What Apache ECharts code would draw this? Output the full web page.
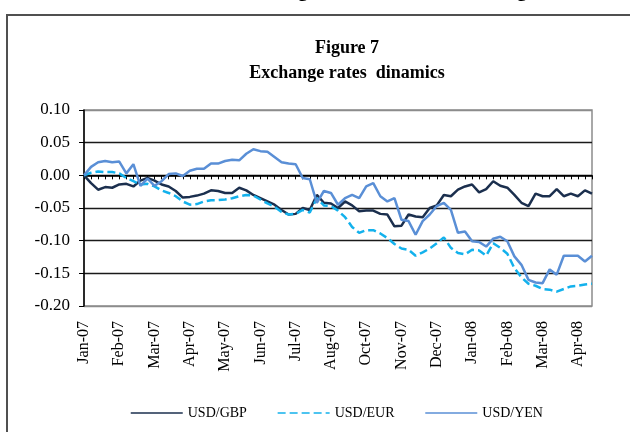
<!DOCTYPE html>
<html lang="en">
<head>
    <meta charset="UTF-8">
    <title>Figure 7</title>
    <script src="https://cdn.jsdelivr.net/npm/echarts@6/dist/echarts.min.js"></script>
    <style>
        body { margin: 0; background: #fff; }
        #main { width: 630px; height: 432px; }
    </style>
</head>
<body>
<div id="main"></div>
<script type="text/javascript">
    // month labels shown on every 5th weekly point
    var tickLabels = ['Jan-07', 'Feb-07', 'Mar-07', 'Apr-07', 'May-07', 'Jun-07', 'Jul-07', 'Aug-07',
        'Oct-07', 'Nov-07', 'Dec-07', 'Jan-08', 'Feb-08', 'Mar-08', 'Apr-08'];

    var usdGbp = [0, -0.012, -0.022, -0.018, -0.019, -0.014, -0.013, -0.017, -0.008, -0.004,
        -0.008, -0.014, -0.017, -0.024, -0.034, -0.033, -0.031, -0.028, -0.023, -0.024,
        -0.027, -0.027, -0.019, -0.023, -0.030, -0.035, -0.040, -0.045, -0.053, -0.060,
        -0.059, -0.050, -0.053, -0.030, -0.042, -0.043, -0.050, -0.040, -0.046, -0.055,
        -0.054, -0.054, -0.059, -0.060, -0.078, -0.077, -0.060, -0.063, -0.064, -0.050,
        -0.046, -0.030, -0.032, -0.022, -0.017, -0.014, -0.026, -0.021, -0.009, -0.016,
        -0.019, -0.030, -0.042, -0.047, -0.028, -0.032, -0.032, -0.021, -0.032, -0.028,
        -0.032, -0.023, -0.028];

    var usdEur = [0, 0.004, 0.006, 0.005, 0.005, 0.003, -0.004, -0.009, -0.014, -0.013,
        -0.017, -0.023, -0.027, -0.032, -0.040, -0.045, -0.044, -0.040, -0.038, -0.038,
        -0.037, -0.035, -0.032, -0.030, -0.031, -0.037, -0.043, -0.048, -0.056, -0.060,
        -0.059, -0.053, -0.057, -0.035, -0.046, -0.047, -0.054, -0.064, -0.079, -0.088,
        -0.084, -0.084, -0.089, -0.096, -0.105, -0.112, -0.114, -0.123, -0.118, -0.112,
        -0.104, -0.095, -0.111, -0.119, -0.121, -0.114, -0.115, -0.123, -0.104, -0.111,
        -0.120, -0.142, -0.156, -0.166, -0.169, -0.174, -0.175, -0.178, -0.174, -0.170,
        -0.169, -0.167, -0.166];

    var usdYen = [0, 0.013, 0.020, 0.022, 0.020, 0.021, 0.003, 0.017, -0.016, -0.005,
        -0.016, -0.009, 0.002, 0.003, -0.001, 0.007, 0.010, 0.010, 0.018, 0.018,
        0.022, 0.024, 0.023, 0.033, 0.040, 0.037, 0.036, 0.028, 0.020, 0.018,
        0.017, -0.004, -0.006, -0.042, -0.024, -0.027, -0.045, -0.035, -0.030, -0.035,
        -0.017, -0.012, -0.032, -0.040, -0.035, -0.068, -0.070, -0.091, -0.070, -0.060,
        -0.047, -0.042, -0.053, -0.088, -0.086, -0.101, -0.102, -0.109, -0.097, -0.094,
        -0.101, -0.124, -0.137, -0.160, -0.164, -0.165, -0.144, -0.152, -0.123, -0.123,
        -0.123, -0.132, -0.123];

    // one category per point, the month text only on every 5th
    var categories = usdGbp.map(function (v, i) {
        return i % 5 === 0 ? tickLabels[i / 5] : '';
    });

    var serif = 'Liberation Serif';
    var myChart = echarts.init(document.getElementById('main'));

    var option = {
        animation: false,
        backgroundColor: '#fff',
        grid: {
            left: 84, right: 38, top: 110, bottom: 126,
            show: true, borderColor: '#8c8c8c', borderWidth: 1.5,
            outerBoundsMode: 'none'
        },
        graphic: [
            { type: 'rect', shape: { x: 7, y: 15, width: 700, height: 500 },
              style: { fill: 'none', stroke: '#505050', lineWidth: 2 }, z: 10 },
            { type: 'text', x: 347, y: 48,
              style: { text: 'Figure 7', font: 'bold 18px ' + serif, fill: '#000', align: 'center', verticalAlign: 'middle' } },
            { type: 'text', x: 347, y: 73,
              style: { text: 'Exchange rates  dinamics', font: 'bold 18px ' + serif, fill: '#000', align: 'center', verticalAlign: 'middle' } },
            { type: 'text', x: 303, y: -9,
              style: { text: 'g', font: 'bold 20px ' + serif, fill: '#000', align: 'center', verticalAlign: 'middle' } },
            { type: 'text', x: 522, y: -9,
              style: { text: 'g', font: 'bold 20px ' + serif, fill: '#000', align: 'center', verticalAlign: 'middle' } }
        ],
        legend: {
            left: 125, top: 401,
            itemWidth: 52, itemHeight: 14, itemGap: 30, itemTextGap: 5,
            textStyle: { fontFamily: serif, fontSize: 14, color: '#000' },
            lineStyle: { width: 1.5 },
            itemStyle: { opacity: 0 },
            data: ['USD/GBP', 'USD/EUR', 'USD/YEN']
        },
        xAxis: [
            {
                // axis line crossing at zero with a tick per week
                type: 'category',
                data: categories,
                boundaryGap: false,
                axisLine: { onZero: true, lineStyle: { color: '#000', width: 1.5 } },
                axisTick: { show: true, interval: 0, length: 4, lineStyle: { color: '#000', width: 1 } },
                axisLabel: { show: false },
                splitLine: { show: false }
            },
            {
                // labels sit under the plot
                type: 'category',
                data: categories,
                boundaryGap: false,
                position: 'bottom',
                axisLine: { show: false, onZero: false },
                axisTick: { show: false },
                axisLabel: {
                    interval: 4, rotate: 90, margin: 15,
                    fontFamily: serif, fontSize: 16, color: '#000'
                },
                splitLine: { show: false }
            }
        ],
        yAxis: {
            type: 'value',
            min: -0.2, max: 0.1, interval: 0.05,
            axisLine: { show: true, lineStyle: { color: '#000', width: 1.5 } },
            axisTick: { show: true, length: 5, lineStyle: { color: '#000', width: 1 } },
            axisLabel: {
                margin: 14,
                fontFamily: serif, fontSize: 17, color: '#000',
                formatter: function (v) { return v.toFixed(2); }
            },
            splitLine: {
                lineStyle: {
                    color: ['#8c8c8c', '#1a1a1a', '#1a1a1a', '#1a1a1a', '#000', '#1a1a1a', '#8c8c8c'],
                    width: 1.3
                }
            }
        },
        series: [
            {
                name: 'USD/GBP', type: 'line', data: usdGbp, xAxisIndex: 0,
                symbol: 'none', color: '#1b2f4e',
                lineStyle: { width: 2.5, color: '#1b2f4e' }
            },
            {
                name: 'USD/EUR', type: 'line', data: usdEur, xAxisIndex: 0,
                symbol: 'none', color: '#13b1ec',
                lineStyle: { width: 2.5, color: '#13b1ec', type: [8, 4] }
            },
            {
                name: 'USD/YEN', type: 'line', data: usdYen, xAxisIndex: 0,
                symbol: 'none', color: '#5a8fd6',
                lineStyle: { width: 2.5, color: '#5a8fd6' }
            }
        ]
    };

    myChart.setOption(option);
</script>
</body>
</html>
